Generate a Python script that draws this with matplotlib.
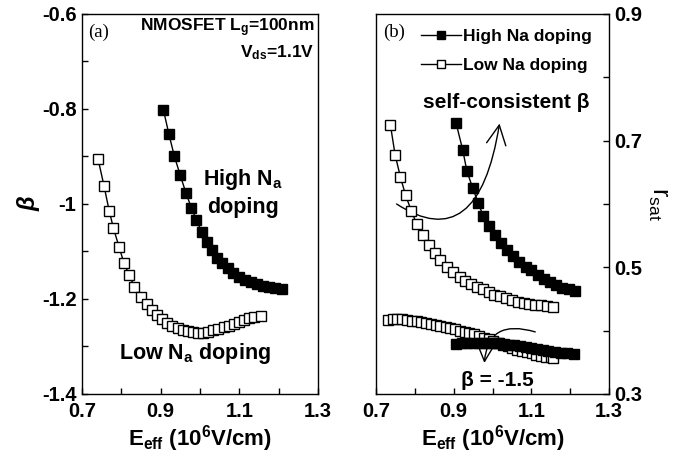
import matplotlib
matplotlib.use("Agg")
import matplotlib.pyplot as plt
from matplotlib.patches import FancyArrowPatch
from matplotlib.path import Path
from matplotlib.ticker import MultipleLocator

# Fuente y texto matematico en negrita sans
plt.rcParams['font.family'] = 'Liberation Sans'
plt.rcParams['font.weight'] = 'bold'
plt.rcParams['mathtext.fontset'] = 'custom'
plt.rcParams['mathtext.rm'] = 'Liberation Sans:bold'
plt.rcParams['mathtext.it'] = 'Liberation Sans:bold'
plt.rcParams['mathtext.bf'] = 'Liberation Sans:bold'

# (a) beta frente a Eeff
e_alto_a = [0.907, 0.921, 0.935, 0.950, 0.964, 0.978, 0.991, 1.004, 1.017, 1.030, 1.043,
            1.056, 1.070, 1.085, 1.100, 1.114, 1.129, 1.144, 1.160, 1.176, 1.192, 1.208]
beta_alto = [-0.802, -0.853, -0.900, -0.940, -0.976, -1.008, -1.034, -1.058, -1.079, -1.097, -1.113,
             -1.125, -1.135, -1.146, -1.153, -1.159, -1.164, -1.168, -1.172, -1.175, -1.177, -1.180]

e_bajo_a = [0.741, 0.756, 0.769, 0.780, 0.794, 0.807, 0.820, 0.833, 0.850, 0.864, 0.877,
            0.890, 0.903, 0.917, 0.930, 0.943, 0.956, 0.969, 0.982, 0.995, 1.008, 1.021,
            1.034, 1.047, 1.060, 1.073, 1.086, 1.099, 1.112, 1.125, 1.138, 1.155]
beta_bajo = [-0.906, -0.962, -1.014, -1.051, -1.090, -1.125, -1.149, -1.174, -1.195, -1.211, -1.223,
             -1.234, -1.243, -1.250, -1.256, -1.261, -1.265, -1.268, -1.270, -1.272, -1.271, -1.269,
             -1.266, -1.263, -1.260, -1.257, -1.253, -1.249, -1.245, -1.241, -1.238, -1.235]

# (b) rsat con beta autoconsistente
e_alto_b = [0.906, 0.923, 0.934, 0.949, 0.963, 0.976, 0.992, 1.006, 1.021, 1.037, 1.052,
            1.069, 1.085, 1.099, 1.116, 1.132, 1.148, 1.164, 1.180, 1.196, 1.212]
rsat_alto = [0.728, 0.686, 0.652, 0.625, 0.602, 0.581, 0.565, 0.551, 0.539, 0.527, 0.518,
             0.509, 0.501, 0.495, 0.488, 0.482, 0.477, 0.472, 0.468, 0.465, 0.462]

e_bajo_b = [0.737, 0.749, 0.763, 0.776, 0.791, 0.805, 0.821, 0.836, 0.851, 0.866, 0.882,
            0.899, 0.915, 0.930, 0.945, 0.960, 0.975, 0.990, 1.005, 1.020, 1.035, 1.050,
            1.065, 1.080, 1.095, 1.110, 1.125, 1.140, 1.155]
rsat_bajo = [0.725, 0.678, 0.642, 0.614, 0.589, 0.568, 0.551, 0.536, 0.523, 0.512, 0.501,
             0.492, 0.485, 0.479, 0.474, 0.469, 0.465, 0.461, 0.457, 0.454, 0.451, 0.448,
             0.446, 0.444, 0.442, 0.441, 0.440, 0.439, 0.438]

# (b) rsat con beta = -1.5
e_alto_15 = [0.906, 0.921, 0.935, 0.950, 0.964, 0.978, 0.991, 1.004, 1.017, 1.030, 1.043,
             1.056, 1.070, 1.085, 1.100, 1.114, 1.129, 1.144, 1.160, 1.176, 1.192, 1.211]
rsat_alto_15 = [0.379, 0.380, 0.381, 0.381, 0.381, 0.381, 0.381, 0.380, 0.380, 0.379, 0.378,
                0.377, 0.376, 0.374, 0.373, 0.371, 0.370, 0.368, 0.367, 0.365, 0.364, 0.363]

e_bajo_15 = [0.731, 0.743, 0.755, 0.768, 0.780, 0.792, 0.805, 0.817, 0.829, 0.842, 0.854, 0.866,
             0.879, 0.891, 0.903, 0.916, 0.928, 0.940, 0.953, 0.965, 0.977, 0.990, 1.002, 1.014,
             1.027, 1.039, 1.051, 1.064, 1.076, 1.088, 1.101, 1.113, 1.125, 1.138, 1.150, 1.157]
rsat_bajo_15 = [0.417, 0.418, 0.418, 0.418, 0.417, 0.416, 0.415, 0.413, 0.412, 0.410, 0.409, 0.407,
                0.405, 0.404, 0.402, 0.400, 0.398, 0.396, 0.394, 0.392, 0.389, 0.387, 0.384, 0.381,
                0.378, 0.376, 0.373, 0.370, 0.368, 0.366, 0.364, 0.362, 0.360, 0.359, 0.358, 0.357]

xticks = [0.7, 0.9, 1.1, 1.3]
xlabel = r'$\mathregular{E_{eff}}$ (10$^{\mathregular{6}}$V/cm)'

fig = plt.figure(figsize=(6.92, 4.57), dpi=100)
ax1 = fig.add_axes([0.1185, 0.1379, 0.341, 0.8315])
ax2 = fig.add_axes([0.5434, 0.1379, 0.3367, 0.8315])

lleno = dict(color='black', lw=1, marker='s', ms=7, mfc='black', mec='black')
hueco = dict(color='black', lw=1, marker='s', ms=6.5, mfc='white', mec='black', mew=1)

# Panel (a)
ax1.plot(e_alto_a, beta_alto, **lleno)
ax1.plot(e_bajo_a, beta_bajo, **hueco)
ax1.set_xlim(0.7, 1.3)
ax1.set_ylim(-1.4, -0.6)
ax1.set_xticks(xticks)
ax1.set_xticklabels(['0.7', '0.9', '1.1', '1.3'])
ax1.set_yticks([-1.4, -1.2, -1.0, -0.8, -0.6])
ax1.set_yticklabels(['-1.4', '-1.2', '-1', '-0.8', '-0.6'])
ax1.xaxis.set_minor_locator(MultipleLocator(0.1))
ax1.yaxis.set_minor_locator(MultipleLocator(0.1))
ax1.tick_params(which='both', direction='in', length=4, width=1, labelsize=14.5,
                right=False, top=False)
ax1.tick_params(axis='y', pad=4)
ax1.tick_params(axis='x', pad=6)
ax1.set_xlabel(xlabel, fontsize=16, fontweight='bold', labelpad=1)
ax1.set_ylabel('β', fontsize=17, fontweight='bold', style='italic', labelpad=1)

ax1.text(0.025, 0.953, '(a)', transform=ax1.transAxes, family='Liberation Serif',
         fontweight='normal', fontsize=13.5, va='center', ha='left')
ax1.text(0.985, 0.963, r'NMOSFET L$_\mathregular{g}$=100nm', transform=ax1.transAxes,
         fontsize=12.5, ha='right', va='center')
ax1.text(0.985, 0.897, r'V$_\mathregular{ds}$=1.1V', transform=ax1.transAxes,
         fontsize=12.5, ha='right', va='center')
ax1.text(1.109, -0.949, r'High N$_\mathregular{a}$', fontsize=15.5, ha='center', va='center')
ax1.text(1.109, -1.008, 'doping', fontsize=15.5, ha='center', va='center')
ax1.text(0.987, -1.314, r'Low N$_\mathregular{a}$ doping', fontsize=15.5, ha='center', va='center')

# Panel (b)
ax2.plot(e_alto_b, rsat_alto, label='High Na doping', **lleno)
ax2.plot(e_bajo_b, rsat_bajo, label='Low Na doping', **hueco)
ax2.plot(e_bajo_15, rsat_bajo_15, **hueco)
ax2.plot(e_alto_15, rsat_alto_15, **lleno)
ax2.set_xlim(0.7, 1.3)
ax2.set_ylim(0.3, 0.9)
ax2.set_xticks(xticks)
ax2.set_xticklabels(['0.7', '0.9', '1.1', '1.3'])
ax2.set_yticks([0.3, 0.5, 0.7, 0.9])
ax2.xaxis.set_minor_locator(MultipleLocator(0.1))
ax2.yaxis.set_minor_locator(MultipleLocator(0.1))
ax2.yaxis.tick_right()
ax2.yaxis.set_label_position('right')
ax2.tick_params(which='both', direction='in', length=4, width=1, labelsize=14.5,
                left=False, top=False, right=True)
ax2.tick_params(axis='y', pad=4)
ax2.tick_params(axis='x', pad=6)
ax2.set_xlabel(xlabel, fontsize=16, fontweight='bold', labelpad=1)
ax2.set_ylabel(r'$\mathregular{r_{sat}}$', fontsize=18, rotation=270, labelpad=20)

ax2.text(0.03, 0.953, '(b)', transform=ax2.transAxes, family='Liberation Serif',
         fontweight='normal', fontsize=13.5, va='center', ha='left')
ax2.legend(loc='upper left', bbox_to_anchor=(0.195, 0.962), frameon=False, fontsize=12.5,
           handlelength=2.25, handletextpad=0.17, labelspacing=0.8, borderpad=0,
           borderaxespad=0, numpoints=1, markerscale=0.85)

ax2.text(1.035, 0.760, 'self-consistent β', fontsize=15, ha='center', va='center')
ax2.text(1.012, 0.322, 'β = -1.5', fontsize=15, ha='center', va='center')

# Flechas curvas
curva1 = Path([(0.753, 0.600), (0.963, 0.516), (1.018, 0.727)],
              [Path.MOVETO, Path.CURVE3, Path.CURVE3])
ax2.add_patch(FancyArrowPatch(path=curva1, arrowstyle='->,head_length=0.7,head_width=0.35',
                              mutation_scale=20, lw=1, color='black'))
curva2 = Path([(1.110, 0.398), (0.988, 0.420), (0.979, 0.349)],
              [Path.MOVETO, Path.CURVE3, Path.CURVE3])
ax2.add_patch(FancyArrowPatch(path=curva2, arrowstyle='->,head_length=0.7,head_width=0.35',
                              mutation_scale=20, lw=1, color='black'))

for ax in (ax1, ax2):
    for s in ax.spines.values():
        s.set_linewidth(1)

fig.savefig('out.png', dpi=100)
